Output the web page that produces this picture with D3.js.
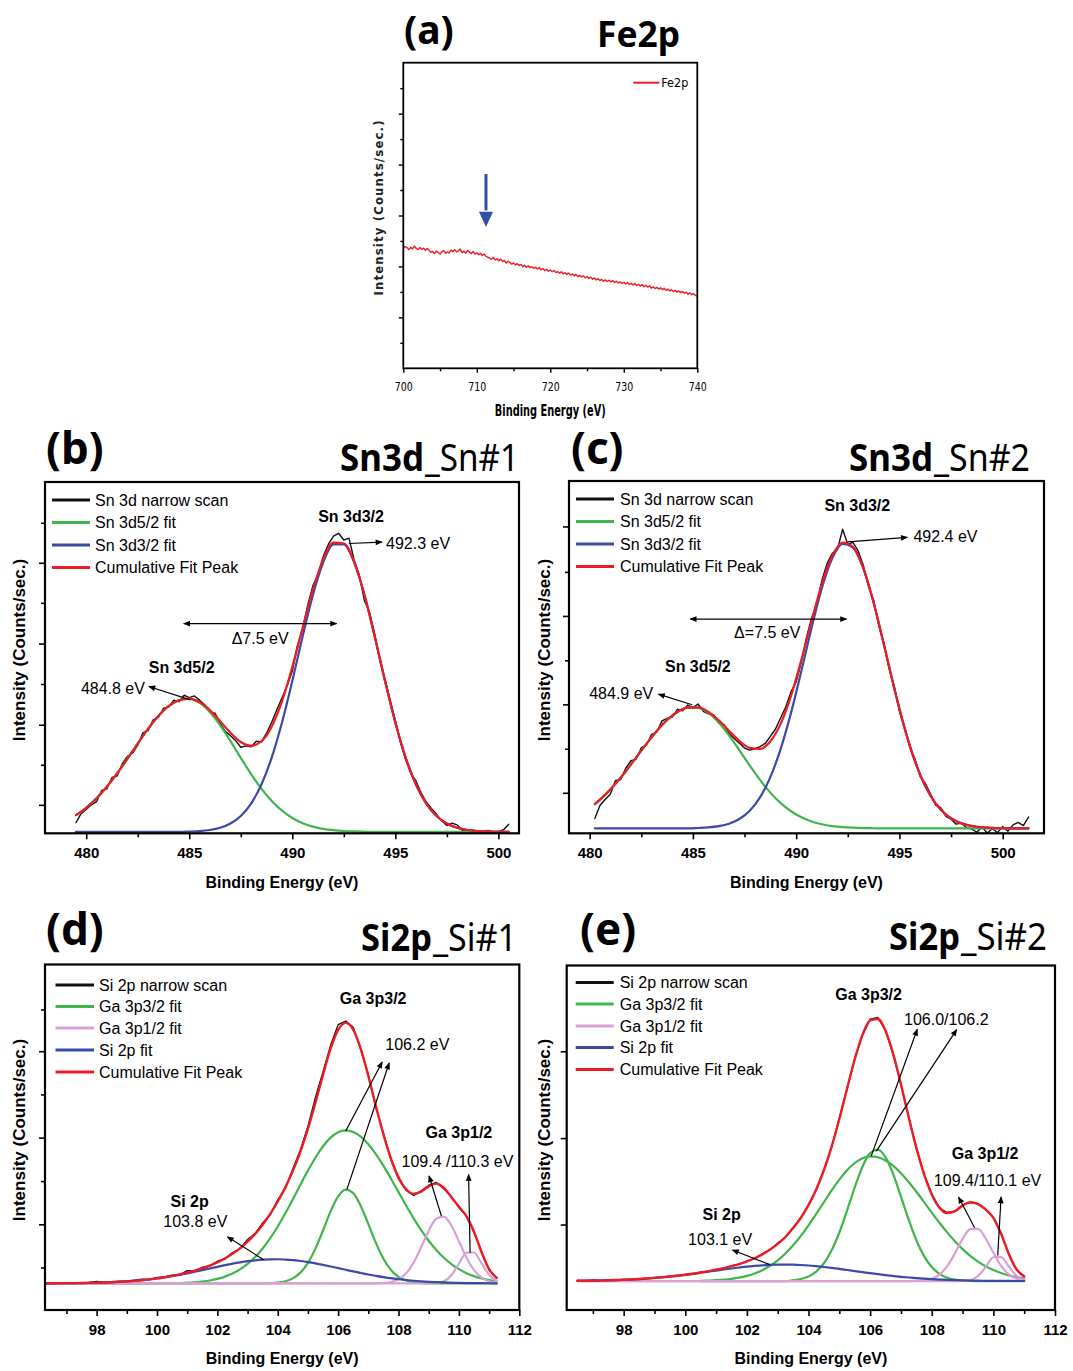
<!DOCTYPE html>
<html><head><meta charset="utf-8">
<script src="https://cdn.jsdelivr.net/npm/d3@7"></script>
<style>body{margin:0;background:#fff;}svg{display:block;}</style>
</head><body>
<svg id="fig" width="1073" height="1371"></svg>
<script>
// ---------------- DATA ----------------
// (a) Fe2p survey
const feGrid = d3.range(700, 740.001, 0.25);
const feIntensity = [
4.70,4.78,4.74,4.66, 4.75,4.69,4.80,4.71, 4.66,4.74,4.68,4.72, 4.63,4.71,4.64,4.55,
4.59,4.51,4.60,4.55, 4.49,4.58,4.62,4.52, 4.57,4.53,4.64,4.58, 4.66,4.57,4.61,4.68,
4.54,4.60,4.52,4.63, 4.57,4.50,4.59,4.48, 4.54,4.46,4.52,4.43, 4.49,4.40,4.36,4.33,
4.28,4.35,4.26,4.30, 4.22,4.29,4.19,4.24, 4.13,4.20,4.16,4.09, 4.14,4.06,4.11,4.04,
4.08,3.99,4.05,3.97, 4.03,3.95,3.99,3.92, 3.97,3.90,3.96,3.87, 3.92,3.84,3.89,3.81,
3.86,3.79,3.84,3.76, 3.80,3.73,3.79,3.71, 3.75,3.68,3.74,3.66, 3.70,3.63,3.69,3.60,
3.65,3.59,3.63,3.55, 3.60,3.53,3.58,3.50, 3.55,3.47,3.52,3.45, 3.49,3.42,3.48,3.41,
3.46,3.39,3.44,3.37, 3.42,3.35,3.40,3.33, 3.38,3.31,3.37,3.29, 3.34,3.27,3.33,3.25,
3.30,3.23,3.29,3.20, 3.26,3.19,3.24,3.15, 3.20,3.13,3.18,3.11, 3.16,3.09,3.14,3.06,
3.11,3.04,3.09,3.01, 3.06,2.99,3.04,2.97, 3.02,2.95,2.99,2.91, 2.96,2.89,2.93,2.86,
2.82];

// (b) Sn3d Sn#1
const snGridB = d3.range(479.5, 500.51, 0.5);
const bSn52 = [5.15,7.26,9.95,13.23,17.04,21.23,25.55,29.71,33.36,36.18,37.87,38.27,37.13,34.52,30.75,26.25,21.47,16.86,12.71,9.21,6.44,4.36,2.89,1.90,1.26,0.88,0.65,0.52,0.45,
0.40,0.40,0.40,0.40,0.40,0.40,0.40,0.40,0.40,0.40,0.40,0.40,0.40,0.40];
const bSn32 = [0.40,0.40,0.40,0.40,0.40,0.40,0.40,0.40,0.40,0.40,0.40,
0.49,0.63,0.94,1.57,2.77,4.91,8.45,13.88,21.55,31.55,43.37,56.01,67.86,77.13,82.24,82.24,77.13,67.86,56.01,43.37,31.55,21.55,13.88,8.45,4.91,2.77,1.57,0.94,0.63,0.49,0.43,0.40];
const bCumulative = [5.15,7.26,9.95,13.23,17.04,21.23,25.55,29.71,33.36,36.18,37.87,38.36,37.36,35.06,31.92,28.62,25.98,24.91,26.19,30.36,37.59,47.33,58.50,69.36,77.99,82.72,82.49,77.25,67.91,56.01,43.37,31.55,21.55,13.88,8.45,4.91,2.77,1.57,0.94,0.63,0.49,0.43,0.40];
const snScanGridB = d3.range(479.5, 500.51, 0.25);
const bScan = [3.0,5.6,6.8,8.1,9.0,12.2,12.6,15.9,16.3,19.8,
21.9,22.8,25.1,28.6,29.2,32.3,33.0,35.6,35.9,37.9,
37.4,39.3,38.6,39.1,37.9,36.6,34.4,34.2,31.3,29.0,
27.8,26.4,24.5,24.9,24.6,26.2,26.0,28.5,31.6,35.2,
38.6,42.0,46.2,53.5,58.0,65.0,70.5,73.6,78.8,82.3,
84.6,85.4,83.5,84.0,77.8,73.5,66.2,62.9,56.6,49.0,
43.8,37.9,32.1,25.8,20.9,17.1,14.9,11.5,8.9,7.1,
5.4,3.6,2.2,2.9,2.4,0.8,0.6,0.9,0.5,0.4,
0.8,0.3,0.5,1.0,2.6];

// (c) Sn3d Sn#2
const snGridC = d3.range(480.25, 501.26, 0.5);
const cSn52 = [8.30,10.91,14.04,17.62,21.48,25.39,29.06,32.18,34.45,35.65,
35.61,34.16,31.44,27.77,23.57,19.24,15.15,11.55,8.57,6.25,
4.54,3.35,2.56,2.06,1.76,1.59,1.49,1.44,
1.40,1.40,1.40,1.40,1.40,1.40,1.40,1.40,1.40,1.40,1.40,1.40,1.40,1.40,1.40];
const cSn32 = [1.40,1.40,1.40,1.40,1.40,1.40,1.40,1.40,1.40,1.40,
1.51,1.67,2.02,2.73,4.06,6.40,10.21,15.96,23.97,34.18,
46.06,58.44,69.71,78.11,82.17,81.13,75.20,65.45,53.52,41.16,
29.85,20.48,13.40,8.48,5.31,3.43,2.39,1.85,1.59,1.48,
1.43,1.40,1.40];
const cCumulative = [8.30,10.91,14.04,17.62,21.48,25.39,29.06,32.18,34.45,35.65,
35.72,34.43,32.06,29.10,26.23,24.24,23.96,26.11,31.14,39.03,
49.20,60.39,70.87,78.77,82.53,81.32,75.29,65.49,53.52,41.16,
29.85,20.48,13.40,8.48,5.31,3.43,2.39,1.85,1.59,1.48,
1.43,1.40,1.40];
const snScanGridC = d3.range(480.25, 501.26, 0.25);
const cScan = [4.2,7.9,9.6,11.1,15.0,15.2,18.5,20.6,21.0,24.3,
25.0,28.1,28.7,31.9,32.6,33.0,35.2,34.8,36.4,35.6,
36.7,34.6,33.9,33.7,31.2,30.9,28.3,26.9,25.6,24.2,
23.6,24.0,24.6,25.5,27.5,29.6,32.8,35.9,40.2,43.0,
48.6,55.6,61.2,65.1,71.9,76.6,79.5,80.6,86.3,82.0,
82.6,80.2,76.1,70.1,66.2,59.0,53.9,46.8,41.7,34.6,
30.2,24.4,21.2,16.1,14.2,11.3,8.0,7.3,4.8,4.0,
2.6,2.9,1.6,1.2,0.3,1.8,0.1,1.3,0.2,1.9,
0.6,2.4,3.1,2.2,4.6];

// (d) Si2p Si#1
const siGridD = d3.range(96.25, 111.26, 0.25);
const dScan = [7.9,7.6,7.9,7.7,7.9,7.8,8.0,8.3,8.0,8.2,
8.3,8.4,8.6,8.9,8.8,9.4,9.6,10.1,10.2,11.4,
11.3,12.3,12.8,14.1,14.8,16.6,17.7,20.4,22.1,25.2,
27.6,31.9,35.2,40.9,46.3,53.2,61.6,69.0,76.6,82.6,
83.6,81.8,75.3,68.2,58.6,51.2,43.5,38.0,34.6,33.2,
34.5,36.1,36.9,35.1,32.9,29.6,27.3,22.4,16.9,11.6,9.4];
const dGa32Broad = [7.70,7.70,7.70,7.70,7.70,7.70,7.70,7.70,7.70,7.70,7.70,7.70,7.70,7.70,7.70,
7.72,7.74,7.77,7.82,7.90,8.04,8.24,8.55,9.00,9.65,
10.54,11.75,13.33,15.34,17.81,20.77,24.18,27.98,32.06,36.25,
40.35,44.14,47.39,49.89,51.46,52.00,51.53,50.17,47.99,45.12,
41.72,37.99,34.11,30.24,26.54,23.12,20.05,17.39,15.14,13.30,
11.82,10.67,9.80,9.15,8.68,8.35];
const dGa32Narrow = [7.70,7.70,7.70,7.70,7.70,7.70,7.70,7.70,7.70,7.70,
7.70,7.70,7.70,7.70,7.70,7.70,7.70,7.70,7.70,7.70,
7.70,7.70,7.70,7.70,7.70,7.70,7.70,7.70,7.70,7.70,
7.78,7.93,8.31,9.16,10.82,13.65,17.83,23.08,28.54,32.89,
34.86,33.83,30.12,24.87,19.42,14.84,11.58,9.58,8.52,8.01,
7.81,7.70,7.70,7.70,7.70,7.70,7.70,7.70,7.70,7.70,7.70];
const dGa12a = [[96.25,7.70],[107.25,7.70],[107.5,7.82],[107.75,8.11],[108,8.89],[108.25,10.61],[108.5,13.72],[108.75,18.15],[109,22.96],[109.25,26.43],[109.5,27.03],[109.75,24.46],[110,19.92],[110.25,15.19],[110.5,11.56],[110.75,9.37],[111,8.31],[111.25,7.89]];
const dGa12b = [[96.25,7.70],[109,7.70],[109.25,7.81],[109.5,8.34],[109.75,10.08],[110,13.40],[110.25,16.57],[110.5,16.64],[110.75,13.55],[111,10.18],[111.25,8.38]];
const dSi2p = [7.72,7.73,7.74,7.75,7.77,7.80,7.84,7.89,7.95,8.03,
8.14,8.27,8.44,8.63,8.86,9.13,9.45,9.80,10.19,10.61,
11.07,11.54,12.02,12.50,12.97,13.41,13.80,14.13,14.39,14.58,
14.67,14.69,14.60,14.44,14.18,13.87,13.49,13.06,12.60,12.12,
11.64,11.16,10.71,10.27,9.88,9.51,9.20,8.91,8.68,8.47,
8.30,8.16,8.06,7.97,7.90,7.84,7.80,7.77,7.75,7.74,7.73];
const dCumulative = [7.72,7.73,7.74,7.75,7.77,7.80,7.84,7.89,7.95,8.03,
8.14,8.27,8.44,8.63,8.86,9.15,9.49,9.87,10.31,10.81,
11.41,12.08,12.87,13.80,14.92,16.25,17.85,19.76,22.03,24.69,
27.82,31.40,35.49,40.26,45.85,52.47,60.06,68.13,75.63,81.07,
83.10,81.12,75.60,67.73,59.02,50.79,43.78,38.39,34.95,33.64,
34.28,35.78,36.59,35.38,32.64,29.88,27.13,22.67,16.72,11.81,9.25];

// (e) Si2p Si#2
const siGridE = d3.range(96.5, 111.01, 0.25);
const eScan = [8.6,8.4,8.7,8.5,8.8,8.6,8.9,8.8,9.1,9.1,
9.4,9.5,9.8,9.9,10.3,10.5,11.0,11.2,11.8,12.1,
12.8,13.3,14.2,15.0,16.3,17.5,19.4,21.1,23.9,26.7,
30.6,34.9,40.8,47.3,55.7,64.1,73.0,79.7,84.4,84.9,
81.2,74.1,65.6,55.9,47.2,39.3,33.7,29.6,28.3,28.6,
30.5,31.2,30.9,29.1,26.9,22.1,16.4,11.7,9.8];
const siGridEGa = d3.range(100.5, 111.01, 0.25);
const eGa32Broad = [8.49,8.56,8.66,8.82,9.06,9.41,9.92,10.62,11.57,12.83,
14.42,16.40,18.77,21.52,24.58,27.90,31.32,34.69,37.83,40.55,
42.67,44.05,44.60,44.33,43.39,41.82,39.71,37.17,34.33,31.33,
28.29,25.32,22.52,19.96,17.68,15.71,14.04,12.68,11.58,10.72,
10.06,9.56,9.20];
const eGa32Narrow = [8.40,8.40,8.40,8.40,8.40,8.40,8.40,8.40,8.40,8.40,8.40,8.40,
8.65,9.00,9.74,11.15,13.57,17.32,22.50,28.86,35.61,41.60,
45.56,46.53,44.29,39.38,32.93,26.21,20.26,15.64,12.46,10.49,
9.38,8.82,8.57,8.46,8.40,8.40,8.40,8.40,8.40,8.40,8.40];
const eGa12a = [[96.5,8.40],[107.25,8.40],[107.5,8.44],[107.75,8.59],[108,9.07],[108.25,10.28],[108.5,12.71],[108.75,16.44],[109,20.61],[109.25,23.47],[109.5,23.54],[109.75,20.76],[110,16.61],[110.25,12.84],[110.5,10.35],[110.75,9.10],[111,8.60]];
const eGa12b = [[96.5,8.40],[108.75,8.40],[109,8.44],[109.25,8.71],[109.5,9.86],[109.75,12.50],[110,15.31],[110.25,15.38],[110.5,12.63],[110.75,9.94],[111,8.74]];
const eSi2p = [8.47,8.50,8.53,8.57,8.62,8.69,8.77,8.87,8.99,9.14,
9.31,9.50,9.72,9.96,10.22,10.51,10.81,11.12,11.44,11.75,
12.05,12.33,12.59,12.80,12.98,13.10,13.18,13.20,13.16,13.06,
12.92,12.72,12.49,12.22,11.93,11.62,11.31,11.00,10.69,10.40,
10.12,9.87,9.63,9.43,9.24,9.08,8.94,8.83,8.74,8.66,
8.60,8.55,8.51,8.48,8.46,8.44,8.43,8.42,8.42];
const eCumulative = [8.47,8.50,8.53,8.57,8.62,8.69,8.77,8.87,8.99,9.14,
9.31,9.50,9.72,9.96,10.22,10.51,10.90,11.28,11.70,12.17,
12.71,13.34,14.11,15.02,16.15,17.53,19.20,21.20,23.78,26.78,
30.44,34.97,40.58,47.43,55.46,64.23,72.79,79.85,84.05,84.46,
81.00,74.27,65.47,56.01,47.07,39.44,33.56,29.72,28.15,28.68,
30.30,31.30,30.75,29.22,26.76,22.18,16.27,11.82,9.76];

// ticks
const feXMajor = [700,710,720,730,740], feXMinor = [705,715,725,735];
const feYMajor = [2,4,6,8,10], feYMinor = [1,3,5,7,9,11];
const snXMajor = [480,485,490,495,500], snXMinor = [482.5,487.5,492.5,497.5];
const siXMajor = [98,100,102,104,106,108,110,112], siXMinor = [97,99,101,103,105,107,109,111];
const bYMajor = [8.1,30.9,54.0,77.0], bYMinor = [19.5,42.5,65.6,88.4];
const cYMajor = [11.5,36.6,61.7,87.1], cYMinor = [24.0,49.1,74.2];
const dYMajor = [24.8,49.9,74.9], dYMinor = [12.3,37.3,62.4,87.0];
const eYMajor = [24.8,49.9,75.1], eYMinor = [];

// legend labels
const snLegend = ['Sn 3d narrow scan','Sn 3d5/2 fit','Sn 3d3/2 fit','Cumulative Fit Peak'];
const siLegend = ['Si 2p narrow scan','Ga 3p3/2 fit','Ga 3p1/2 fit','Si 2p fit','Cumulative Fit Peak'];

// ---------------- DRAW ----------------
const C = {black:'#111', green:'#3fb54a', blue:'#3a4aa6', red:'#ec1c24', pink:'#d9a0d8', arrowBlue:'#3150a5'};
const SANS = "'Liberation Sans', Arial, sans-serif";
const NARROW = "'Liberation Sans Narrow','DejaVu Sans Condensed','Arial Narrow',sans-serif";
const TITLE = "'Noto Sans','Open Sans',sans-serif";
const svg = d3.select('#fig');
svg.append('rect').attr('width',1073).attr('height',1371).attr('fill','#fff');
const defs = svg.append('defs');
defs.append('marker').attr('id','ah').attr('viewBox','0 0 10 10').attr('refX',9).attr('refY',5)
  .attr('markerWidth',9).attr('markerHeight',7).attr('markerUnits','userSpaceOnUse')
  .attr('orient','auto-start-reverse').append('path').attr('d','M0,0.8 L10,5 L0,9.2 Z').attr('fill','#000');

const zip = (xs, ys) => xs.map((v,i)=>[v, ys[i]]);

function drawPanel(p){
  const x = d3.scaleLinear().domain(p.xDomain).range([p.left,p.right]);
  const y = d3.scaleLinear().domain(p.yDomain).range([p.bottom,p.top]);
  const g = svg.append('g');
  defs.append('clipPath').attr('id','clip-'+p.id).append('rect')
    .attr('x',p.left).attr('y',p.top).attr('width',p.right-p.left).attr('height',p.bottom-p.top);
  const gs = g.append('g').attr('clip-path',`url(#clip-${p.id})`);
  p.series.forEach(s=>{
    gs.append('path').datum(s.pts).attr('fill','none').attr('stroke',s.color)
      .attr('stroke-width',s.width).attr('stroke-linejoin','round').attr('stroke-linecap','round')
      .attr('d', d3.line().x(d=>x(d[0])).y(d=>y(d[1])).curve(s.smooth?d3.curveMonotoneX:d3.curveLinear));
  });
  // x axis
  const axB = g.append('g').attr('transform',`translate(0,${p.bottom})`)
    .call(d3.axisBottom(x).tickValues(p.xMajor).tickSize(p.tMaj).tickSizeOuter(0).tickFormat(d3.format('d')));
  axB.select('.domain').remove();
  axB.attr('font-family',p.tickFont).attr('font-size',p.tickSize).attr('font-weight',p.tickWeight);
  axB.selectAll('line').attr('stroke','#000').attr('stroke-width',p.tickW);
  axB.selectAll('text').attr('y',p.tickLabelOff).attr('dy',null).attr('fill','#000');
  if(p.tickLabelLen) axB.selectAll('text').attr('textLength',p.tickLabelLen).attr('lengthAdjust','spacingAndGlyphs');
  const axBm = g.append('g').attr('transform',`translate(0,${p.bottom})`)
    .call(d3.axisBottom(x).tickValues(p.xMinor).tickSize(p.tMin).tickSizeOuter(0).tickFormat(''));
  axBm.select('.domain').remove();
  axBm.selectAll('line').attr('stroke','#000').attr('stroke-width',p.tickW);
  // y axis
  [[p.yMajor,p.tMaj],[p.yMinor,p.tMin]].forEach(([vals,len])=>{
    const a = g.append('g').attr('transform',`translate(${p.left},0)`)
      .call(d3.axisLeft(y).tickValues(vals).tickSize(len).tickSizeOuter(0).tickFormat(''));
    a.select('.domain').remove();
    a.selectAll('line').attr('stroke','#000').attr('stroke-width',p.tickW);
  });
  // frame
  g.append('rect').attr('x',p.left).attr('y',p.top).attr('width',p.right-p.left).attr('height',p.bottom-p.top)
    .attr('fill','none').attr('stroke','#000').attr('stroke-width',p.frameW);
  // axis labels
  const xl = g.append('text').attr('x',(p.left+p.right)/2 + (p.xlabDx||0)).attr('y',p.xlabY).attr('text-anchor','middle')
    .attr('font-family',p.labFont).attr('font-size',p.labSize).attr('font-weight',p.labWeight).text('Binding Energy (eV)');
  if(p.xlabLen) xl.attr('textLength',p.xlabLen).attr('lengthAdjust','spacingAndGlyphs');
  const yl = g.append('text').attr('transform',`translate(${p.ylabX},${p.ylabY}) rotate(-90)`).attr('text-anchor','middle')
    .attr('font-family',p.labFont).attr('font-size',p.ylabSize||p.labSize).attr('font-weight',p.ylabWeight||p.labWeight)
    .attr('fill',p.ylabFill||'#000').text('Intensity (Counts/sec.)');
  if(p.ylabLen) yl.attr('textLength',p.ylabLen).attr('lengthAdjust','spacing');
  // titles
  g.append('text').attr('x',p.letterX).attr('y',p.letterY).attr('font-family',TITLE).attr('font-weight','bold')
    .attr('font-size',p.letterSize).text(p.letter);
  p.titleParts.forEach(tp=>{
    g.append('text').attr('x',tp.x).attr('y',p.titleY).attr('font-family',TITLE).attr('font-size',p.titleSize)
      .attr('font-weight',tp.bold?'bold':'normal').attr('textLength',tp.len).attr('lengthAdjust','spacingAndGlyphs').text(tp.t);
  });
  // legend
  if(p.legend){
    p.legend.items.forEach((it,i)=>{
      const yy = p.top + p.legend.rows[i];
      g.append('line').attr('x1',p.left+p.legend.x1).attr('x2',p.left+p.legend.x2).attr('y1',yy).attr('y2',yy)
        .attr('stroke',it.color).attr('stroke-width',p.legend.lw);
      const lt = g.append('text').attr('x',p.left+p.legend.tx).attr('y',yy).attr('dy','0.35em')
        .attr('font-family',p.legend.font).attr('font-size',p.legend.size).text(it.label);
      if(p.legend.len) lt.attr('textLength',p.legend.len).attr('lengthAdjust','spacingAndGlyphs');
    });
  }
  // annotations
  (p.texts||[]).forEach(t=>{
    g.append('text').attr('x',x(t.x)).attr('y',y(t.y)).attr('dy','0.35em').attr('text-anchor',t.anchor||'middle')
      .attr('font-family',SANS).attr('font-size',16).attr('font-weight',t.bold?'bold':'normal').text(t.t);
  });
  (p.arrows||[]).forEach(a=>{
    const l = g.append('line').attr('x1',x(a.x1)).attr('y1',y(a.y1)).attr('x2',x(a.x2)).attr('y2',y(a.y2))
      .attr('stroke','#000').attr('stroke-width',1.2).attr('marker-end','url(#ah)');
    if(a.both) l.attr('marker-start','url(#ah)');
  });
  return {x,y,g};
}

const snCommon = {yDomain:[0,100], tMaj:6, tMin:4, tickW:1.6, frameW:2.2, tickFont:SANS, tickSize:15, tickWeight:'bold',
  tickLabelOff:24.5, labFont:SANS, labSize:16, ylabSize:17, labWeight:'bold', letterSize:44, titleSize:38};

// (a)
const pa = drawPanel({id:'a', left:403.3, right:697.3, top:62.7, bottom:368.3, xDomain:[700,740], yDomain:[0,12],
  xMajor:feXMajor, xMinor:feXMinor, yMajor:feYMajor, yMinor:feYMinor, tMaj:4.5, tMin:3, tickW:1.4, frameW:1.8,
  tickFont:NARROW, tickSize:13, tickWeight:'normal', tickLabelOff:23, tickLabelLen:18,
  labFont:NARROW, labSize:15, labWeight:'bold', xlabY:416, xlabLen:111,
  ylabX:383, ylabY:208, ylabSize:13, ylabLen:175, ylabFill:'#222',
  letter:'(a)', letterX:404, letterY:44, letterSize:39,
  titleY:47, titleSize:36, titleParts:[{t:'Fe2p', x:597, len:83, bold:true}],
  series:[{pts:zip(feGrid,feIntensity), color:C.red, width:1.4}],
  legend:{items:[{label:'Fe2p',color:C.red}], rows:[20], x1:230, x2:256, tx:258, lw:2, font:NARROW, size:13, len:27}
});
// blue arrow in (a)
pa.g.append('line').attr('x1',pa.x(711.25)).attr('x2',pa.x(711.25)).attr('y1',pa.y(7.63)).attr('y2',pa.y(6.2))
  .attr('stroke',C.arrowBlue).attr('stroke-width',3);
pa.g.append('path').attr('fill',C.arrowBlue)
  .attr('d',`M${pa.x(711.25)-7},${pa.y(6.15)} L${pa.x(711.25)+7},${pa.y(6.15)} L${pa.x(711.25)},${pa.y(5.55)} Z`);

// (b)
drawPanel(Object.assign({}, snCommon, {id:'b', left:45, right:519, top:482, bottom:833.3, xDomain:[478.0,501.0],
  xMajor:snXMajor, xMinor:snXMinor, yMajor:bYMajor, yMinor:bYMinor, xlabY:888, ylabX:25, ylabY:650,
  letter:'(b)', letterX:46, letterY:464, titleY:471,
  titleParts:[{t:'Sn3d', x:340, len:84, bold:true},{t:'_Sn#1', x:425, len:94}],
  series:[
    {pts:zip(snScanGridB,bScan), color:C.black, width:1.4},
    {pts:zip(snGridB,bSn52), color:C.green, width:2.2, smooth:true},
    {pts:zip(snGridB,bSn32), color:C.blue, width:2.2, smooth:true},
    {pts:zip(snGridB,bCumulative), color:C.red, width:2.2, smooth:true}],
  legend:{items:snLegend.map((l,i)=>({label:l,color:[C.black,C.green,C.blue,C.red][i]})), rows:[18,40.5,63,85.5],
    x1:7, x2:45, tx:50, lw:3, font:SANS, size:16},
  texts:[{t:'Sn 3d3/2',x:492.85,y:90.3,bold:true},{t:'492.3 eV',x:494.55,y:82.5,anchor:'start'},
    {t:'\u03947.5 eV',x:488.44,y:55.6},{t:'Sn 3d5/2',x:484.63,y:47.1,bold:true},{t:'484.8 eV',x:482.85,y:41.3,anchor:'end'}],
  arrows:[{x1:492.74,y1:82.5,x2:494.35,y2:82.9},{x1:484.73,y1:59.7,x2:492.15,y2:59.7,both:true},
    {x1:485.05,y1:38.0,x2:483.04,y2:41.8}]
}));

// (c)
drawPanel(Object.assign({}, snCommon, {id:'c', left:569, right:1044, top:481, bottom:833.3, xDomain:[479.0,502.0],
  xMajor:snXMajor, xMinor:snXMinor, yMajor:cYMajor, yMinor:cYMinor, xlabY:888, ylabX:550, ylabY:650,
  letter:'(c)', letterX:571, letterY:464, titleY:471,
  titleParts:[{t:'Sn3d', x:849, len:84, bold:true},{t:'_Sn#2', x:934, len:96}],
  series:[
    {pts:zip(snScanGridC,cScan), color:C.black, width:1.4},
    {pts:zip(snGridC,cSn52), color:C.green, width:2.2, smooth:true},
    {pts:zip(snGridC,cSn32), color:C.blue, width:2.2, smooth:true},
    {pts:zip(snGridC,cCumulative), color:C.red, width:2.2, smooth:true}],
  legend:{items:snLegend.map((l,i)=>({label:l,color:[C.black,C.green,C.blue,C.red][i]})), rows:[18,40.5,63,85.5],
    x1:7, x2:45, tx:51, lw:3, font:SANS, size:16},
  texts:[{t:'Sn 3d3/2',x:492.96,y:93.1,bold:true},{t:'492.4 eV',x:495.68,y:84.2,anchor:'start'},
    {t:'\u0394=7.5 eV',x:488.6,y:57.1},{t:'Sn 3d5/2',x:485.24,y:47.5,bold:true},{t:'484.9 eV',x:483.08,y:39.8,anchor:'end'}],
  arrows:[{x1:492.49,y1:82.7,x2:495.38,y2:84.0},{x1:484.87,y1:60.8,x2:492.44,y2:60.8,both:true},
    {x1:484.96,y1:36.5,x2:483.33,y2:39.5}]
}));

// (d)
drawPanel(Object.assign({}, snCommon, {id:'d', left:45, right:519.3, top:964.5, bottom:1310, xDomain:[96.29,112.0],
  xMajor:siXMajor, xMinor:siXMinor, yMajor:dYMajor, yMinor:dYMinor, tickLabelOff:24.5, xlabY:1364, ylabX:25, ylabY:1130,
  letter:'(d)', letterX:46, letterY:945, titleY:951,
  titleParts:[{t:'Si2p', x:361, len:71, bold:true},{t:'_Si#1', x:433, len:84}],
  series:[
    {pts:zip(siGridD,dScan), color:C.black, width:1.4},
    {pts:zip(siGridD,dGa32Broad), color:C.green, width:2.2, smooth:true},
    {pts:zip(siGridD,dGa32Narrow), color:C.green, width:2.2, smooth:true},
    {pts:dGa12a, color:C.pink, width:2.2, smooth:true},
    {pts:dGa12b, color:C.pink, width:2.2, smooth:true},
    {pts:zip(siGridD,dSi2p), color:C.blue, width:2.2, smooth:true},
    {pts:zip(siGridD,dCumulative), color:C.red, width:2.4, smooth:true}],
  legend:{items:siLegend.map((l,i)=>({label:l,color:[C.black,C.green,C.pink,C.blue,C.red][i]})), rows:[20.5,42,63.5,85.5,107.5],
    x1:10.5, x2:49, tx:54, lw:3, font:SANS, size:16},
  texts:[{t:'Ga 3p3/2',x:107.16,y:90.2,bold:true},{t:'106.2 eV',x:107.56,y:76.9,anchor:'start'},
    {t:'Ga 3p1/2',x:110.0,y:51.3,bold:true},{t:'109.4 /110.3 eV',x:109.95,y:43.1},
    {t:'Si 2p',x:101.08,y:31.5,bold:true},{t:'103.8 eV',x:101.27,y:25.5}],
  arrows:[{x1:106.25,y1:51.8,x2:107.46,y2:71.8},{x1:106.29,y1:34.9,x2:107.69,y2:71.5},
    {x1:109.42,y1:27.2,x2:109.01,y2:38.8},{x1:110.37,y1:16.6,x2:110.32,y2:39.2},
    {x1:103.54,y1:14.5,x2:102.33,y2:21.2}]
}));

// (e)
drawPanel(Object.assign({}, snCommon, {id:'e', left:566.7, right:1055, top:965.5, bottom:1310, xDomain:[96.15,112.0],
  xMajor:siXMajor, xMinor:siXMinor, yMajor:eYMajor, yMinor:eYMinor, tickLabelOff:24.5, xlabY:1364, ylabX:550, ylabY:1130,
  letter:'(e)', letterX:580, letterY:945, titleY:950,
  titleParts:[{t:'Si2p', x:889, len:71, bold:true},{t:'_Si#2', x:961, len:86}],
  series:[
    {pts:zip(siGridE,eScan), color:C.black, width:1.4},
    {pts:zip(siGridEGa,eGa32Broad), color:C.green, width:2.2, smooth:true},
    {pts:zip(siGridEGa,eGa32Narrow), color:C.green, width:2.2, smooth:true},
    {pts:eGa12a, color:C.pink, width:2.2, smooth:true},
    {pts:eGa12b, color:C.pink, width:2.2, smooth:true},
    {pts:zip(siGridE,eSi2p), color:C.blue, width:2.2, smooth:true},
    {pts:zip(siGridE,eCumulative), color:C.red, width:2.4, smooth:true}],
  legend:{items:siLegend.map((l,i)=>({label:l,color:[C.black,C.green,C.pink,C.blue,C.red][i]})), rows:[17,38.5,60.5,82,104],
    x1:9, x2:47, tx:53, lw:3, font:SANS, size:16},
  texts:[{t:'Ga 3p3/2',x:105.95,y:91.7,bold:true},{t:'106.0/106.2',x:107.1,y:84.4,anchor:'start'},
    {t:'Ga 3p1/2',x:109.73,y:45.6,bold:true},{t:'109.4/110.1 eV',x:109.81,y:37.7},
    {t:'Si 2p',x:101.18,y:27.7,bold:true},{t:'103.1 eV',x:101.13,y:20.5}],
  arrows:[{x1:106.03,y1:44.6,x2:107.53,y2:81.5},{x1:106.2,y1:46.1,x2:108.81,y2:81.4},
    {x1:109.39,y1:23.9,x2:108.87,y2:32.8},{x1:110.14,y1:15.8,x2:110.25,y2:32.8},
    {x1:102.74,y1:13.2,x2:101.53,y2:17.4}]
}));
</script>
</body></html>
